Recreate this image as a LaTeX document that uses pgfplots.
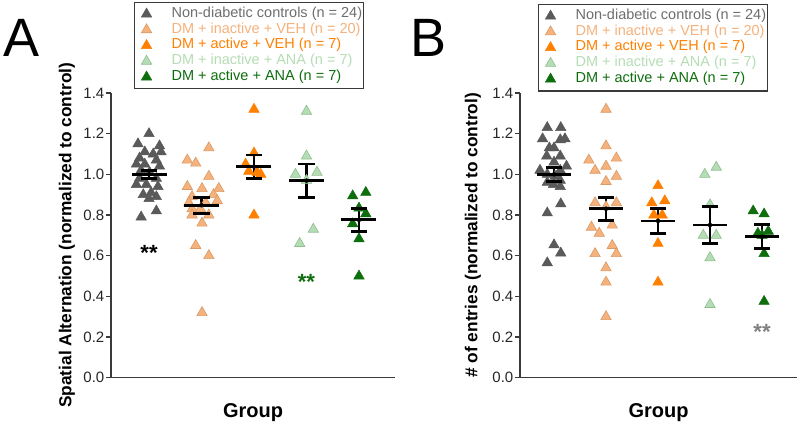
\documentclass[border=0pt]{standalone}
\usepackage{pgfplots}
\pgfplotsset{compat=1.18}
\usepackage{pgfplotstable}
\usepackage{fontspec}
\setmainfont{Liberation Sans}
\definecolor{cgray}{HTML}{5A5A5A}
\definecolor{cgrayt}{HTML}{6E6E6E}
\definecolor{cpeach}{HTML}{F5B27C}
\definecolor{cpeachd}{HTML}{D99A66}
\definecolor{corange}{HTML}{FF8000}
\definecolor{clgreen}{HTML}{B5DDB5}
\definecolor{clgreend}{HTML}{8FBF8F}
\definecolor{cdgreen}{HTML}{0E6E0E}
\definecolor{axiscol}{HTML}{3A3A3A}

% means: x, mean, sem, upper cap, lower cap
\pgfplotstableread{
x m e hi lo
1 1.000 0.020 1.020 0.980
2 0.848 0.039 0.887 0.809
3 1.038 0.057 1.095 0.981
4 0.969 0.082 1.051 0.887
5 0.776 0.056 0.832 0.720
}\meansA
\pgfplotstableread{
x m e hi lo
1 1.000 0.035 1.035 0.965
2 0.831 0.057 0.888 0.774
3 0.771 0.061 0.832 0.710
4 0.751 0.092 0.843 0.659
5 0.693 0.059 0.752 0.634
}\meansB

\pgfplotsset{
  panel/.style={
    scale only axis, height=284.7pt,
    ymin=0, ymax=1.4, ytick={0,0.2,0.4,0.6,0.8,1.0,1.2,1.4},
    xtick=\empty,
    axis x line*=bottom, axis y line*=left,
    axis line style={draw=axiscol, line width=1.2pt, -},
    every tick/.style={draw=axiscol, line width=1.2pt},
    major tick length=5pt, tick align=outside,
    yticklabel style={/pgf/number format/.cd, fixed, fixed zerofill, precision=1, assume math mode=true},
    tick label style={font=\fontsize{15}{17}\selectfont, text=black!85, inner sep=1.5pt},
    clip=false,
    xlabel={Group},
    xlabel style={font=\fontsize{20}{22}\bfseries, at={(axis description cs:0.5,-0.1405)}, anchor=base},
    ylabel style={font=\fontsize{17.3}{19}\bfseries, anchor=center},
    legend cell align=left,
    legend style={draw=axiscol, line width=1.1pt, inner xsep=0pt, inner ysep=4pt,
      row sep=0pt, column sep=0pt, anchor=north west,
      font=\fontsize{14.5}{16}\selectfont,
      nodes={inner xsep=1pt, inner ysep=0pt, text height=11.25pt, text depth=4.5pt}},
    legend image code/.code={\path[draw=none,fill=none] (0pt,-3pt) rectangle (36pt,3pt); \draw[##1] plot coordinates {(12pt,0pt)};},
  },
  sgray/.style={only marks, mark=triangle*, mark size=6pt, mark options={fill=cgray, draw=cgray, line width=0.5pt}},
  speach/.style={only marks, mark=triangle*, mark size=6pt, mark options={fill=cpeach, draw=cpeachd, line width=0.6pt}},
  sorange/.style={only marks, mark=triangle*, mark size=6pt, mark options={fill=corange, draw=corange, line width=0.5pt}},
  slgreen/.style={only marks, mark=triangle*, mark size=6pt, mark options={fill=clgreen, draw=clgreend, line width=0.6pt}},
  sdgreen/.style={only marks, mark=triangle*, mark size=6pt, mark options={fill=cdgreen, draw=cdgreen, line width=0.5pt}},
  ebar/.style={forget plot, only marks, mark=none, error bars/.cd, y dir=both, y explicit, error mark=none,
    error bar style={draw=black, line width=2.8pt}},
  mline/.style={forget plot, only marks, mark=-, mark size=#1, mark options={draw=black, line width=2.8pt}},
}

\begin{document}
\begin{tikzpicture}
\useasboundingbox (0pt,0pt) rectangle (800pt,425pt);

\node[anchor=base west, font=\fontsize{54}{56}\selectfont, inner sep=0pt] at (3pt,368pt) {A};
\node[anchor=base west, font=\fontsize{54}{56}\selectfont, inner sep=0pt] at (410pt,368pt) {B};

% ---------------- Panel A ----------------
\begin{axis}[panel, at={(111pt,47.3pt)}, anchor=south west, width=284pt,
  xmin=0.276, xmax=5.686,
  ylabel={Spatial Alternation (normalized to control)},
  ylabel style={at={(axis description cs:-0.155,0.5)}},
  legend style={at={(0.081,1.321)}},
]
\addplot[sgray] table[x=x,y=y] {
x y
1.00 1.20
0.79 1.15
1.20 1.14
0.92 1.11
1.08 1.10
1.23 1.11
0.82 1.08
1.14 1.07
0.76 1.05
0.92 1.05
1.20 1.04
0.85 1.02
1.01 1.01
0.82 0.98
1.14 0.98
0.76 0.95
0.95 0.95
1.17 0.94
1.04 0.91
0.89 0.90
1.14 0.89
1.00 0.88
0.85 0.79
1.14 0.82
};
\addlegendentry{\textcolor{cgrayt}{Non-diabetic controls (n = 24)}}
\addplot[speach] table[x=x,y=y] {
x y
2.14 1.13
1.73 1.07
1.89 1.055
2.14 0.99
1.73 0.94
2.01 0.93
2.33 0.93
1.82 0.89
2.23 0.90
1.76 0.86
2.08 0.86
2.30 0.87
1.82 0.83
1.98 0.83
1.82 0.80
2.14 0.80
2.01 0.76
1.89 0.65
2.14 0.60
2.01 0.32
};
\addlegendentry{\textcolor{cpeach}{DM + inactive + VEH (n = 20)}}
\addplot[sorange] table[x=x,y=y] {
x y
3.00 1.32
3.00 1.105
2.84 1.05
2.90 1.015
3.06 1.01
3.13 1.00
3.00 0.80
};
\addlegendentry{\textcolor{corange}{DM + active + VEH (n = 7)}}
\addplot[slgreen] table[x=x,y=y] {
x y
4.00 1.31
4.00 1.09
3.79 1.00
4.20 1.01
4.00 0.97
4.13 0.73
3.87 0.66
};
\addlegendentry{\textcolor{clgreen}{DM + inactive + ANA (n = 7)}}
\addplot[sdgreen] table[x=x,y=y] {
x y
4.88 0.894
5.13 0.911
5.00 0.834
5.13 0.806
4.88 0.757
5.00 0.683
5.00 0.50
};
\addlegendentry{\textcolor{cdgreen}{DM + active + ANA (n = 7)}}

\addplot[ebar] table[x=x,y=m,y error=e] {\meansA};
\addplot[mline=17.5pt] table[x=x,y=m] {\meansA};
\addplot[mline=8.3pt] table[x=x,y=hi] {\meansA};
\addplot[mline=8.3pt] table[x=x,y=lo] {\meansA};

\node[anchor=base, font=\fontsize{22}{24}\bfseries, text=black, inner sep=0pt] at (axis cs:1,0.576) {**};
\node[anchor=base, font=\fontsize{22}{24}\bfseries, text=cdgreen, inner sep=0pt] at (axis cs:4,0.436) {**};
\end{axis}

% ---------------- Panel B ----------------
\begin{axis}[panel, at={(520pt,47.3pt)}, anchor=south west, width=277pt,
  xmin=0.346, xmax=5.673,
  ylabel={\# of entries (normalized to control)},
  ylabel style={at={(axis description cs:-0.170,0.5)}},
  legend style={at={(0.065,1.3137)}},
]
\addplot[sgray] table[x=x,y=y] {
x y
0.87 1.23
1.13 1.23
0.78 1.175
1.12 1.17
1.21 1.175
0.91 1.13
1.00 1.13
0.86 1.09
1.12 1.09
1.00 1.06
1.24 1.04
0.73 1.02
1.12 1.02
0.87 1.00
1.02 0.99
1.12 0.97
0.87 0.96
0.99 0.95
1.12 0.94
1.13 0.855
0.87 0.81
1.00 0.653
1.13 0.613
0.87 0.565
};
\addlegendentry{\textcolor{cgrayt}{Non-diabetic controls (n = 24)}}
\addplot[speach] table[x=x,y=y] {
x y
2.00 1.32
2.00 1.14
1.67 1.07
2.20 1.08
2.00 1.04
1.79 1.02
2.20 0.99
2.00 0.965
1.79 0.86
2.20 0.86
2.00 0.84
2.12 0.75
1.72 0.74
1.87 0.71
2.12 0.65
1.79 0.61
2.20 0.61
2.00 0.54
2.00 0.47
2.00 0.30
};
\addlegendentry{\textcolor{cpeach}{DM + inactive + VEH (n = 20)}}
\addplot[sorange] table[x=x,y=y] {
x y
3.00 0.944
2.88 0.86
3.13 0.87
2.92 0.80
3.08 0.80
3.00 0.66
3.00 0.47
};
\addlegendentry{\textcolor{corange}{DM + active + VEH (n = 7)}}
\addplot[slgreen] table[x=x,y=y] {
x y
3.90 1.00
4.12 1.035
4.00 0.85
3.87 0.70
4.12 0.70
4.00 0.59
4.00 0.36
};
\addlegendentry{\textcolor{clgreen}{DM + inactive + ANA (n = 7)}}
\addplot[sdgreen] table[x=x,y=y] {
x y
4.83 0.82
5.04 0.805
4.92 0.71
5.12 0.72
5.00 0.70
5.04 0.61
5.04 0.375
};
\addlegendentry{\textcolor{cdgreen}{DM + active + ANA (n = 7)}}

\addplot[ebar] table[x=x,y=m,y error=e] {\meansB};
\addplot[mline=16.7pt] table[x=x,y=m] {\meansB};
\addplot[mline=8.3pt] table[x=x,y=hi] {\meansB};
\addplot[mline=8.3pt] table[x=x,y=lo] {\meansB};

\node[anchor=base, font=\fontsize{22}{24}\bfseries, text=gray, inner sep=0pt] at (axis cs:5,0.186) {**};
\end{axis}
\end{tikzpicture}
\end{document}
